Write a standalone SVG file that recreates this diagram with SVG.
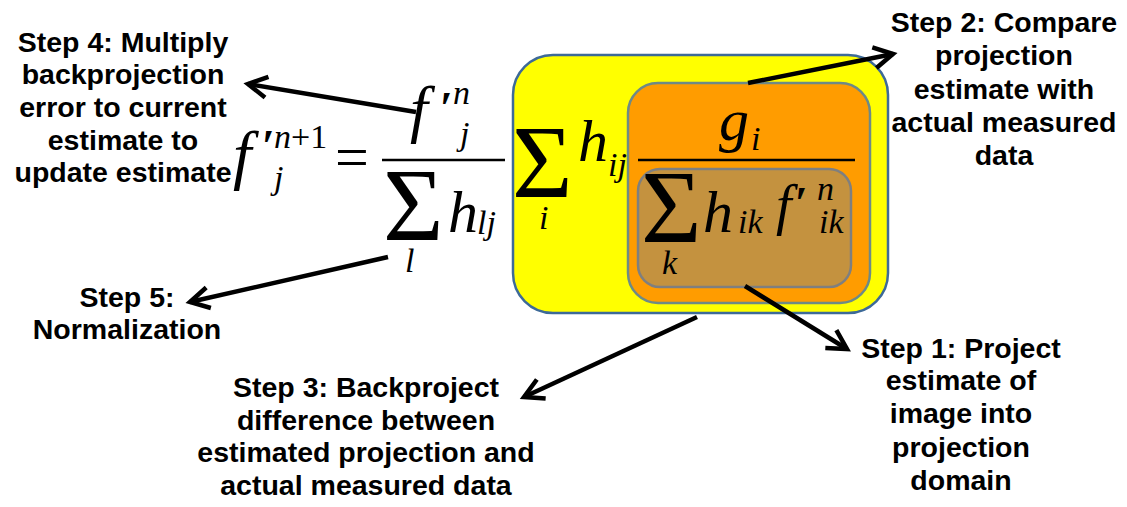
<svg xmlns="http://www.w3.org/2000/svg" width="1127" height="507" viewBox="0 0 1127 507">
<style>
.lbl{font-family:"Liberation Sans",Arial,sans-serif;font-weight:bold;font-size:28.5px;fill:#000;text-anchor:middle}
.m{font-family:"Liberation Serif","Times New Roman",serif;fill:#000}
.it{font-style:italic}
.big{font-size:60px}
.sub{font-size:34px}
.pr{font-size:46px;font-weight:bold}
.sig{font-size:104px}
.conn{stroke:#000;stroke-width:4.5;fill:none;marker-end:url(#arr)}
.bar{stroke:#000;stroke-width:2.5}
</style>
<defs>
<marker id="arr" markerUnits="userSpaceOnUse" markerWidth="30" markerHeight="30" viewBox="-24 -15 30 30" refX="0" refY="0" orient="auto">
<path d="M-19,-10.5 L0,0 L-19,10.5" fill="none" stroke="#000" stroke-width="4.5" stroke-linejoin="miter"/>
</marker>
</defs>
<rect width="1127" height="507" fill="#fff"/>

<g id="box-backproject">
<rect x="513" y="55" width="375" height="258" rx="40" fill="#ffff00" stroke="#3d6a98" stroke-width="2.5"/>
</g>
<g id="box-compare">
<rect x="628" y="83" width="242" height="220" rx="30" fill="#ff9c00" stroke="#6e8a86" stroke-width="2.5"/>
</g>
<g id="box-project">
<rect x="638" y="169" width="213" height="118" rx="22" fill="#c4923f" stroke="#7f7f7f" stroke-width="2.5"/>
</g>

<g id="formula">
<!-- f'^{n+1}_j -->
<text class="m it" font-size="66" x="233" y="177">f</text>
<text class="m pr" x="262" y="162">′</text>
<text class="m sub" x="274" y="148"><tspan class="it">n</tspan>+1</text>
<text class="m it sub" x="274" y="189">j</text>
<text class="m big" x="335" y="177">=</text>
<!-- first fraction -->
<line class="bar" x1="382" y1="160" x2="505" y2="160"/>
<text class="m it" font-size="64" x="410" y="130">f</text>
<text class="m pr" x="440" y="124">′</text>
<text class="m it sub" x="453" y="104">n</text>
<text class="m it sub" x="460" y="145">j</text>
<text class="m sig" x="383" y="240">Σ</text>
<text class="m it big" x="448" y="232">h</text>
<text class="m it sub" x="477" y="234">lj</text>
<text class="m it sub" x="405" y="272">l</text>
<!-- sum over i -->
<text class="m sig" x="512" y="197">Σ</text>
<text class="m it big" x="578" y="161">h</text>
<text class="m it sub" x="608" y="176">ij</text>
<text class="m it sub" x="539" y="229">i</text>
<!-- second fraction -->
<text class="m it big" x="719" y="140">g</text>
<text class="m it sub" x="751" y="150">i</text>
<line class="bar" x1="638" y1="160" x2="855" y2="160"/>
<text class="m sig" x="641" y="242">Σ</text>
<text class="m it big" x="703" y="232">h</text>
<text class="m it sub" x="738" y="233">ik</text>
<text class="m it" font-size="56" x="776" y="224">f</text>
<text class="m pr" x="795" y="219">′</text>
<text class="m it sub" x="817" y="200">n</text>
<text class="m it sub" x="819" y="233">ik</text>
<text class="m it sub" x="662" y="274">k</text>
</g>

<g id="connectors">
<line class="conn" x1="416" y1="112" x2="248" y2="84"/>
<line class="conn" x1="388" y1="257" x2="190" y2="302"/>
<line class="conn" x1="748" y1="83" x2="893" y2="54"/>
<line class="conn" x1="745" y1="286" x2="847" y2="349"/>
<line class="conn" x1="697" y1="317" x2="524" y2="397"/>
</g>

<g id="step4">
<text class="lbl" x="123" y="52">Step 4: Multiply</text>
<text class="lbl" x="123" y="84">backprojection</text>
<text class="lbl" x="123" y="117">error to current</text>
<text class="lbl" x="123" y="150">estimate to</text>
<text class="lbl" x="123" y="182">update estimate</text>
</g>
<g id="step2">
<text class="lbl" x="1004" y="32">Step 2: Compare</text>
<text class="lbl" x="1004" y="65">projection</text>
<text class="lbl" x="1004" y="99">estimate with</text>
<text class="lbl" x="1004" y="132">actual measured</text>
<text class="lbl" x="1004" y="165">data</text>
</g>
<g id="step5">
<text class="lbl" x="127" y="307">Step 5:</text>
<text class="lbl" x="127" y="339">Normalization</text>
</g>
<g id="step3">
<text class="lbl" x="366" y="397">Step 3: Backproject</text>
<text class="lbl" x="366" y="430">difference between</text>
<text class="lbl" x="366" y="462">estimated projection and</text>
<text class="lbl" x="366" y="495">actual measured data</text>
</g>
<g id="step1">
<text class="lbl" x="961" y="358">Step 1: Project</text>
<text class="lbl" x="961" y="390">estimate of</text>
<text class="lbl" x="961" y="423">image into</text>
<text class="lbl" x="961" y="457">projection</text>
<text class="lbl" x="961" y="490">domain</text>
</g>
</svg>
